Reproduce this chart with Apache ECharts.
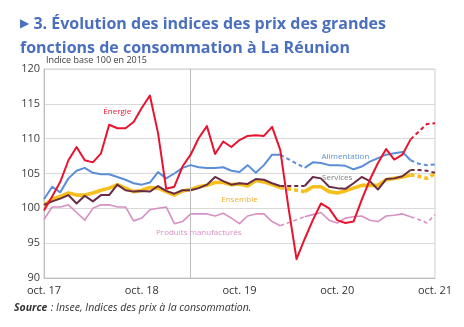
<!DOCTYPE html>
<html><head><meta charset="utf-8">
<script src="https://cdn.jsdelivr.net/npm/echarts@6/dist/echarts.min.js"></script>
<style>html,body{margin:0;padding:0;background:#fff;}#c{width:464px;height:327px;}</style>
</head><body><div id="c"></div>
<script>
// ---- data ----
const monthNames = ['janv.','févr.','mars','avr.','mai','juin','juil.','août','sept.','oct.','nov.','déc.'];
const startMonth = 9, startYear = 2017, nMonths = 49; // oct. 2017 -> oct. 2021
const categories = [];
for (let i = 0; i < nMonths; i++) { const m = (startMonth + i) % 12; const y = startYear + Math.floor((startMonth + i) / 12); categories.push(monthNames[m] + ' ' + String(y).slice(2)); }
const xTickLabels = ['oct. 17','oct. 18','oct. 19','oct. 20','oct. 21'];
const yTicks = [90, 95, 100, 105, 110, 115, 120];

const energie = [99.7,101.7,103.8,106.9,108.8,106.9,106.6,107.9,112.0,111.5,111.5,112.4,114.4,116.2,110.8,102.8,103.1,106.0,107.7,110.1,111.8,107.8,109.6,108.8,109.8,110.4,110.5,110.4,111.7,108.4,100.2,92.7,95.6,98.3,100.7,100.0,98.3,97.9,98.1,101.2,104.1,106.5,108.5,107.0,107.7,109.9,111.0,112.1,112.2];
const alimentation = [101.3,103.1,102.3,104.3,105.4,105.8,105.1,104.9,104.9,104.5,104.1,103.6,103.4,103.7,105.2,104.3,105.0,105.8,106.2,105.9,105.8,105.8,105.9,105.4,105.2,106.2,105.1,106.2,107.7,107.7,null,null,105.8,106.6,106.5,106.2,106.2,106.1,105.6,106.0,106.7,107.2,107.7,107.9,108.1,106.9,106.4,106.2,106.3];
const services = [100.5,101.0,101.4,101.9,100.7,101.8,101.0,101.9,101.9,103.4,102.6,102.4,102.5,102.4,103.2,102.5,102.1,102.6,102.6,102.9,103.4,104.5,103.9,103.4,103.6,103.5,104.2,104.1,103.6,103.2,null,null,103.2,104.5,104.3,103.1,102.9,102.8,103.6,104.5,103.9,102.7,104.2,104.3,104.6,105.5,105.5,105.4,105.1];
const ensemble = [100.4,101.3,101.7,102.2,101.9,101.9,102.2,102.6,102.9,103.4,102.9,102.4,102.6,103.0,102.9,102.4,101.9,102.5,102.7,103.1,103.3,103.7,103.7,103.4,103.5,103.2,104.0,103.8,103.4,103.0,null,null,102.4,103.1,103.1,102.4,102.2,102.5,102.9,103.3,103.3,103.3,104.1,104.3,104.5,104.8,104.6,104.3,105.0];
const manufactures = [98.4,100.2,100.2,100.5,99.4,98.3,100.0,100.5,100.5,100.2,100.2,98.2,98.6,99.8,100.0,100.2,97.8,98.1,99.2,99.2,99.2,98.9,99.3,98.6,97.8,98.9,99.2,99.2,98.1,97.5,null,null,98.8,99.1,99.4,98.3,97.9,98.6,98.8,98.9,98.3,98.1,98.9,99.0,99.2,98.8,98.4,97.9,99.1];

const gapStart = 29, gapEnd = 32, provisionalFrom = 45, markerIndex = 18;

// ---- helpers (styles only) ----
function solidPart(arr){ return arr.map((v,i)=> i<=provisionalFrom ? v : null); }
function gapPart(arr){ return arr.map((v,i)=> (i===gapStart||i===gapEnd) ? v : null); }
function endPart(arr){ return arr.map((v,i)=> i>=provisionalFrom ? v : null); }

const styles = [
  {name:'Produits manufacturés', data:manufactures, color:'#d88fc3', width:1.6, gap:true},
  {name:'Ensemble', data:ensemble, color:'#f6c01c', width:3.6, gap:true},
  {name:'Services', data:services, color:'#6a2b45', width:2, gap:true},
  {name:'Alimentation', data:alimentation, color:'#5a8ed6', width:2, gap:true},
  {name:'Énergie', data:energie, color:'#e8132e', width:2, gap:false}
];

const series = [];
styles.forEach((s, k) => {
  const base = {type:'line', symbol:'none', silent:true, animation:false, z:2+k,
    lineStyle:{color:s.color, width:s.width}};
  series.push(Object.assign({}, base, {name:s.name, data:solidPart(s.data), connectNulls:false, lineStyle:{color:s.color, width:s.width, join:'round'}}));
  if (s.gap) series.push(Object.assign({}, base, {data:gapPart(s.data), connectNulls:true, lineStyle:{color:s.color, width:s.width, type:[4,3]}}));
  series.push(Object.assign({}, base, {data:endPart(s.data), connectNulls:false, lineStyle:{color:s.color, width:s.width, type:[4,3]}}));
});
series[0].markLine = {silent:true, symbol:'none', label:{show:false}, animation:false,
  lineStyle:{color:'#bdbdbd', width:1, type:'solid'}, data:[{xAxis:markerIndex}]};

const chart = echarts.init(document.getElementById('c'), null, {renderer:'canvas'});
chart.setOption({
  animation:false,
  backgroundColor:'#fff',
  textStyle:{fontFamily:'Open Sans'},
  title:{
    left:15, top:7,
    text:'{tri|▶} 3. Évolution des indices des prix des grandes\nfonctions de consommation à La Réunion',
    textStyle:{fontFamily:'Open Sans', fontSize:16, fontWeight:'bold', color:'#4b6fbf', lineHeight:24,
      rich:{tri:{fontSize:12, color:'#4b6fbf', fontFamily:'DejaVu Sans', lineHeight:24}}}
  },
  grid:{left:44, right:29, top:69, bottom:49, show:true, borderColor:'#cfcfcf', borderWidth:1},
  xAxis:{type:'category', data:categories, boundaryGap:false,
    axisLine:{lineStyle:{color:'#bfbfbf'}}, axisTick:{show:false},
    axisLabel:{interval:11, margin:7, fontSize:11, color:'#333', fontFamily:'Open Sans',
      formatter:(v)=> xTickLabels.includes(v) ? v : ''},
    splitLine:{show:false}},
  yAxis:{type:'value', min:yTicks[0], max:yTicks[yTicks.length-1], interval:5,
    axisLine:{show:true, lineStyle:{color:'#bfbfbf'}}, axisTick:{show:false},
    axisLabel:{fontSize:11, color:'#404040', margin:4, fontFamily:'Open Sans'},
    splitLine:{lineStyle:{color:'#d9d9d9', width:1}}},
  series:series
});

// annotation texts placed in data coordinates
const annotations = [
  {text:'Énergie', at:[9.2,113.8], color:'#e8132e'},
  {text:'Alimentation', at:[36.6,107.4], color:'#5a8ed6'},
  {text:'Services', at:[36.0,104.4], color:'#7f7f7f'},
  {text:'Ensemble', at:[23.8,101.2], color:'#f0b030'},
  {text:'Produits manufacturés', at:[18.5,96.5], color:'#d88fc3'}
];
const graphics = annotations.map(a => {
  const p = chart.convertToPixel({gridIndex:0}, a.at);
  return {type:'text', x:p[0], y:p[1], silent:true, z:50,
    style:{text:a.text, fill:a.color, font:'8px "Open Sans"', textAlign:'center', textVerticalAlign:'middle'}};
});
graphics.push({type:'text', left:46, top:56, silent:true,
  style:{text:'Indice base 100 en 2015', fill:'#404040', font:'9px "Open Sans"'}});
graphics.push({type:'text', left:14, top:302, silent:true,
  style:{rich:{b:{fontFamily:'Open Sans', fontStyle:'italic', fontWeight:'bold', fontSize:10.5, fill:'#333'},
               n:{fontFamily:'Open Sans', fontStyle:'italic', fontSize:10.5, fill:'#333'}},
         text:'{b|Source} {n|: Insee, Indices des prix à la consommation.}'}});
chart.setOption({graphic:graphics});
</script></body></html>
